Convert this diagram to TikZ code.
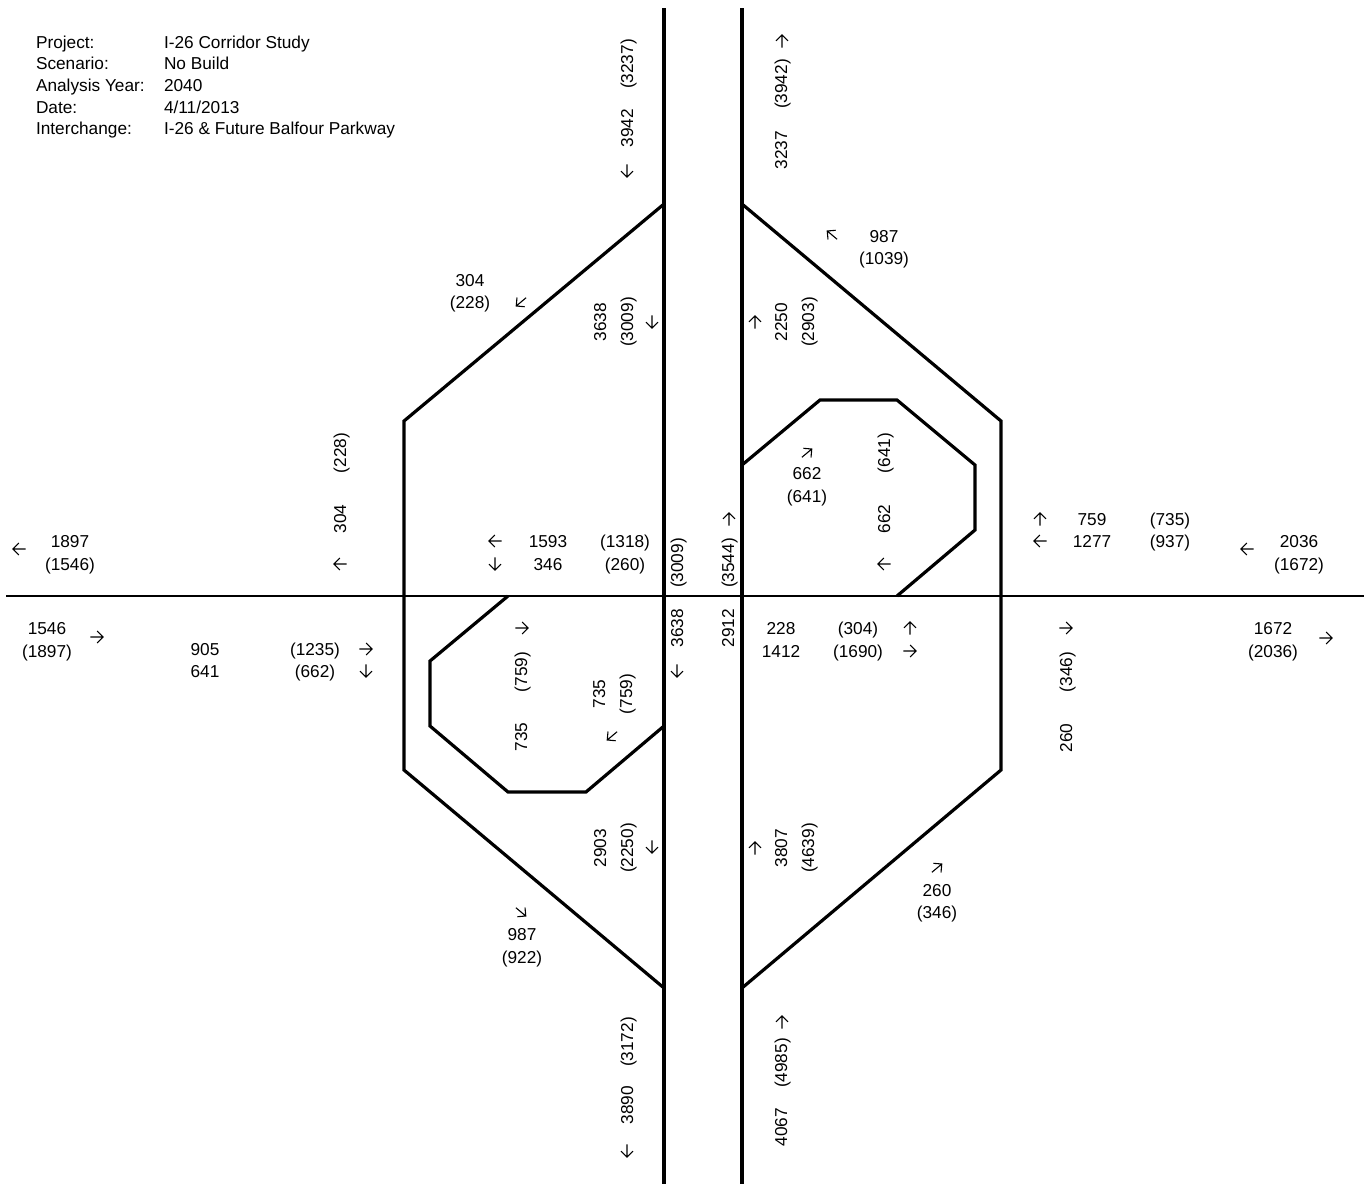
\documentclass[tikz,border=0pt]{standalone}
\usepackage{fontspec}
\setmainfont{Liberation Sans}
\tikzset{
  lbl/.style={inner sep=0pt,outer sep=0pt,font=\fontsize{17.25}{20}\selectfont,text height=12.2pt,text depth=0pt,anchor=center},
  vlbl/.style={lbl,rotate=90},
  hdr/.style={inner sep=0pt,outer sep=0pt,font=\fontsize{17.25}{20}\selectfont,text height=12.2pt,text depth=0pt,anchor=west},
  mainroad/.style={line width=4pt,black},
  crossroad/.style={line width=2.2pt,black},
  ramp/.style={line width=3.2pt,black,line join=miter},
  dirarrow/.style={line width=1.1pt,black,line join=miter,line cap=butt}
}
\begin{document}
\begin{tikzpicture}[x=1pt,y=-1pt]
\useasboundingbox (0,0) rectangle (1369,1184);
% roads
\coordinate (mlt) at (664,8); \coordinate (mlb) at (664,1184);
\coordinate (mrt) at (742,8); \coordinate (mrb) at (742,1184);
\coordinate (cl) at (6,596); \coordinate (cr) at (1364,596);
\draw[crossroad] (cl) -- (cr);
\draw[mainroad] (mlt) -- (mlb);
\draw[mainroad] (mrt) -- (mrb);
% ramps
\draw[ramp] (664,204) -- (404,421) -- (404,770) -- (664,988);
\draw[ramp] (742,204) -- (1001,421) -- (1001,770) -- (742,988);
\draw[ramp] (742,465) -- (820,400) -- (897,400) -- (975,465) -- (975,530) -- (897,596);
\draw[ramp] (508,596) -- (430,661) -- (430,726) -- (508,792) -- (586,792) -- (664,726);
% header
\foreach \px/\py/\tx [count=\i] in {
 36/42/{Project:},164/42/{I-26 Corridor Study},
 36/63/{Scenario:},164/63/{No Build},
 36/85/{Analysis Year:},164/85/{2040},
 36/107/{Date:},164/107/{4/11/2013},
 36/128/{Interchange:},164/128/{I-26 \& Future Balfour Parkway}}
 \node[hdr] (h\i) at (\px,\py) {\tx};
% horizontal labels
\foreach \px/\py/\tx [count=\i] in {
 70/541/{1897},70/564/{(1546)},
 548/541/{1593},625/541/{(1318)},548/564/{346},625/564/{(260)},
 47/628/{1546},47/651/{(1897)},
 205/649/{905},205/671/{641},315/649/{(1235)},315/671/{(662)},
 781/628/{228},858/628/{(304)},781/651/{1412},858/651/{(1690)},
 1273/628/{1672},1273/651/{(2036)},
 1092/519/{759},1170/519/{(735)},1092/541/{1277},1170/541/{(937)},
 1299/541/{2036},1299/564/{(1672)},
 807/473/{662},807/496/{(641)},
 884/236/{987},884/258/{(1039)},
 470/280/{304},470/302/{(228)},
 937/890/{260},937/912/{(346)},
 522/934/{987},522/957/{(922)}}
 \node[lbl] (t\i) at (\px,\py) {\tx};
% vertical labels
\foreach \px/\py/\tx [count=\i] in {
 340/519/{304},340/453/{(228)},
 677/563/{(3009)},728/563/{(3544)},677/628/{3638},728/628/{2912},
 521/672/{(759)},521/737/{735},599/694/{735},626/694/{(759)},
 1066/672/{(346)},1066/738/{260},
 884/519/{662},884/453/{(641)},
 627/64/{(3237)},627/128/{3942},781/84/{(3942)},781/150/{3237},
 600/322/{3638},627/322/{(3009)},781/322/{2250},808/322/{(2903)},
 600/848/{2903},627/848/{(2250)},781/848/{3807},808/848/{(4639)},
 627/1042/{(3172)},627/1105/{3890},781/1063/{(4985)},781/1127/{4067}}
 \node[vlbl] (v\i) at (\px,\py) {\tx};
% direction arrows: x/y/angle
\foreach \px/\py/\ang in {
 19/549/180,340/564/180,495/541/180,495/564/270,
 729/519/90,677/671/270,522/628/0,612/736/220,
 97/637/0,366/649/0,366/671/270,
 910/628/90,910/651/0,1066/628/0,1326/638/0,
 1040/519/90,1040/541/180,1247/549/180,
 884/564/180,807/453/40,
 627/171/270,782/41/90,832/235/140,521/302/220,
 652/322/270,755/322/90,652/847/270,755/848/90,
 937/868/40,521/912/320,627/1151/270,782/1022/90}
 \draw[dirarrow,shift={(\px,\py)},rotate=\ang]
   (-6.7,0) -- (6.2,0) (0.2,-6) -- (6.2,0) -- (0.2,6);
\end{tikzpicture}
\end{document}
